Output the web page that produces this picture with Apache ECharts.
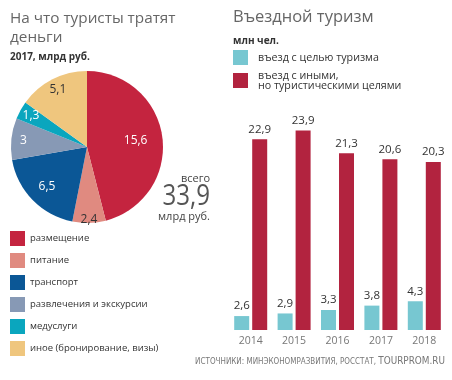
<!DOCTYPE html>
<html><head><meta charset="utf-8">
<script src="https://cdn.jsdelivr.net/npm/echarts@6/dist/echarts.min.js"></script>
<style>html,body{margin:0;padding:0;background:#fff}#c{width:452px;height:380px}</style>
</head><body><div id="c"></div>
<script>
// ---- data ----
const spendCategories = ['размещение', 'питание', 'транспорт', 'развлечения и экскурсии', 'медуслуги', 'иное (бронирование, визы)'];
const spendValues = [15.6, 2.4, 6.5, 3, 1.3, 5.1];
const spendTotal = '33,9';
const years = ['2014', '2015', '2016', '2017', '2018'];
const tourismArrivals = [2.6, 2.9, 3.3, 3.8, 4.3];
const otherArrivals = [22.9, 23.9, 21.3, 20.6, 20.3];
const seriesNames = ['въезд с целью туризма', 'въезд с иными,\nно туристическими целями'];

// ---- styles ----
const pieColors = ['#c4243f', '#e08a80', '#0b5796', '#8799b5', '#0aa6be', '#efc67e'];
const pieLabelColors = ['#fff', '#333', '#fff', '#fff', '#fff', '#333'];
const pieLabelRadius = [46, 70, 53, 61, 61, 61];
const barColors = ['#77c7d1', '#b2233f'];
const FONT = "'Open Sans', 'Noto Sans', sans-serif";
const PIE_R = 76;
const fmt = v => String(v).replace('.', ',');

const labelSeries = spendCategories.map((_, k) => ({
  type: 'pie', center: [87, 147], radius: [2 * pieLabelRadius[k] - PIE_R, PIE_R],
  startAngle: 90, clockwise: true, silent: true, labelLine: {show: false},
  data: spendCategories.map((n, i) => ({name: n, value: spendValues[i],
    itemStyle: {color: 'rgba(0,0,0,0)'},
    label: {show: i === k, position: 'inside', formatter: fmt(spendValues[i]), color: pieLabelColors[i],
      fontSize: 12, fontFamily: FONT, textBorderWidth: 0}}))
}));

const chart = echarts.init(document.getElementById('c'), null, {renderer: 'canvas'});
chart.setOption({
  animation: false,
  textStyle: {fontFamily: FONT},
  title: [
    {text: 'На что туристы тратят\nденьги', left: 10, top: 9, padding: 0,
     textStyle: {fontSize: 15.3, fontWeight: 'normal', color: '#666', lineHeight: 19, fontFamily: FONT}},
    {text: '2017, млрд руб.', left: 10, top: 52, padding: 0,
     textStyle: {fontSize: 10, fontWeight: 'bold', color: '#333', fontFamily: FONT}},
    {text: 'Въездной туризм', left: 233, top: 9, padding: 0,
     textStyle: {fontSize: 16.5, fontWeight: 'normal', color: '#666', fontFamily: FONT}},
    {text: 'млн чел.', left: 233, top: 36, padding: 0,
     textStyle: {fontSize: 10, fontWeight: 'bold', color: '#333', fontFamily: FONT}}
  ],
  legend: [
    {orient: 'vertical', left: 10, top: 231, padding: 0, itemWidth: 15, itemHeight: 15, itemGap: 7,
     icon: 'rect', data: spendCategories, selectedMode: false,
     textStyle: {fontSize: 9.5, color: '#333', fontFamily: FONT}},
    {orient: 'vertical', left: 233, top: 50, padding: 0, itemWidth: 15, itemHeight: 15, itemGap: 5,
     icon: 'rect', data: seriesNames, selectedMode: false,
     formatter: name => name.split('\n').map(s => '{t|' + s + '}').join('\n'),
     textStyle: {fontSize: 10.7, color: '#333', lineHeight: 10, fontFamily: FONT,
       rich: {t: {fontSize: 10.7, color: '#333', lineHeight: 10, fontFamily: FONT, padding: [0, 0, 0, 5]}}}}
  ],
  grid: {left: 229, right: 6, top: 121, bottom: 50},
  xAxis: {type: 'category', data: years,
    axisLine: {show: false}, axisTick: {show: false},
    axisLabel: {color: '#777', fontSize: 10.5, margin: 6, fontFamily: FONT}},
  yAxis: {type: 'value', min: 1, max: 25, show: false, splitLine: {show: false}},
  series: [
    {type: 'pie', center: [87, 147], radius: [0, PIE_R], startAngle: 90, clockwise: true,
     label: {show: false}, labelLine: {show: false}, silent: true,
     data: spendCategories.map((n, i) => ({name: n, value: spendValues[i], itemStyle: {color: pieColors[i]}}))},
    ...labelSeries,
    {type: 'bar', name: seriesNames[0], data: tourismArrivals, barWidth: 15, barGap: '20%',
     itemStyle: {color: barColors[0]},
     label: {show: true, position: 'top', distance: 4, color: '#333', fontSize: 11.5, fontFamily: FONT,
       formatter: p => fmt(p.value)}},
    {type: 'bar', name: seriesNames[1], data: otherArrivals, barWidth: 15,
     itemStyle: {color: barColors[1]},
     label: {show: true, position: 'top', distance: 4, color: '#333', fontSize: 11.5, fontFamily: FONT,
       formatter: p => fmt(p.value)}}
  ],
  graphic: [
    {type: 'text', x: 210, y: 173, style: {text: 'всего', fill: '#444', fontSize: 11, fontFamily: FONT, textAlign: 'right', textVerticalAlign: 'top'}},
    {type: 'text', x: 210, y: 182, scaleX: 0.83, style: {text: spendTotal, fill: '#555', fontSize: 29, fontFamily: FONT, textAlign: 'right', textVerticalAlign: 'top'}},
    {type: 'text', x: 210, y: 211, style: {text: 'млрд руб.', fill: '#444', fontSize: 11, fontFamily: FONT, textAlign: 'right', textVerticalAlign: 'top'}},
    {type: 'text', x: 445, y: 356, scaleX: 0.94, style: {
      textAlign: 'right', textVerticalAlign: 'top',
      rich: {a: {fontSize: 8.5, fill: '#777', fontFamily: "'DejaVu Sans Condensed', sans-serif"},
             b: {fontSize: 10.5, fill: '#777', fontFamily: "'DejaVu Sans Condensed', sans-serif"}},
      text: '{a|ИСТОЧНИКИ: МИНЭКОНОМРАЗВИТИЯ, РОССТАТ, }{b|TOURPROM.RU}'}}
  ]
});
</script></body></html>
